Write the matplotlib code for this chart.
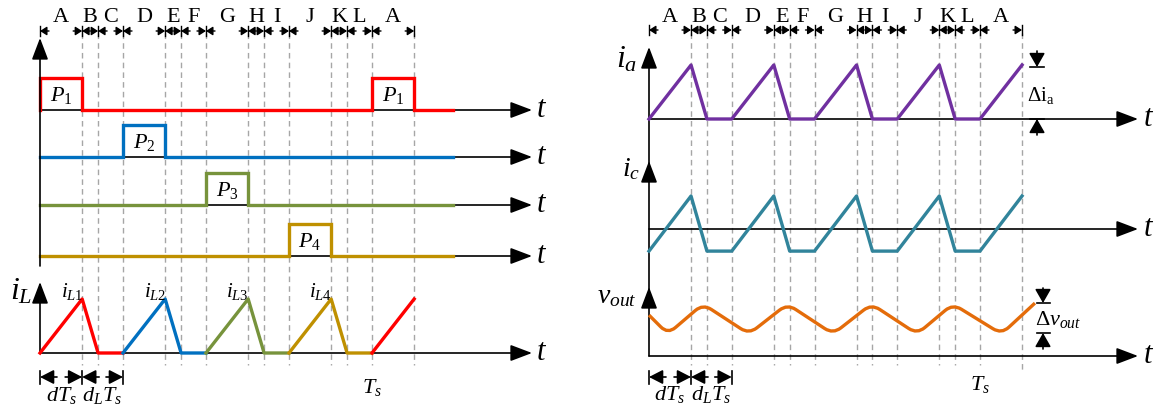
#### timing diagram: 4-phase interleaved converter waveforms

import numpy as np
import matplotlib.pyplot as plt
from matplotlib.path import Path
from matplotlib.patches import PathPatch

plt.rcParams['font.family'] = ['Liberation Serif', 'DejaVu Serif']
plt.rcParams['mathtext.fontset'] = 'custom'
plt.rcParams['mathtext.rm'] = 'Liberation Serif'
plt.rcParams['mathtext.it'] = 'Liberation Serif:italic'
plt.rcParams['mathtext.bf'] = 'Liberation Serif:bold'

#### data (time in units of Ts) ####

bounds = [0, 0.127, 0.175, 0.25, 0.377, 0.425, 0.5, 0.627, 0.675, 0.75, 0.877, 0.925, 1.0, 1.127]
letters = ['A', 'B', 'C', 'D', 'E', 'F', 'G', 'H', 'I', 'J', 'K', 'L', 'A']

# gate pulses P1..P4
p_t = [[0, 0, 0.127, 0.127, 1.0, 1.0, 1.127, 1.127, 1.245],
       [0, 0.25, 0.25, 0.377, 0.377, 1.245],
       [0, 0.5, 0.5, 0.627, 0.627, 1.245],
       [0, 0.75, 0.75, 0.877, 0.877, 1.245]]
p_v = [[0, 1, 1, 0, 0, 1, 1, 0, 0],
       [0, 0, 1, 1, 0, 0],
       [0, 0, 1, 1, 0, 0],
       [0, 0, 1, 1, 0, 0]]
p_names = ['$P_{\\mathit{1}}$', '$P_{\\mathit{2}}$', '$P_{\\mathit{3}}$', '$P_{\\mathit{4}}$']
p_label_t = [[0.0635, 1.0635], [0.3135], [0.5635], [0.8135]]

# inductor currents iL1..iL4 (red again at the next period)
il_t = [[0, 0.127, 0.175, 0.25], [0.25, 0.377, 0.425, 0.5], [0.5, 0.627, 0.675, 0.75],
        [0.75, 0.877, 0.925, 1.0], [1.0, 1.127]]
il_v = [[0, 1, 0, 0], [0, 1, 0, 0], [0, 1, 0, 0], [0, 1, 0, 0], [0, 1]]
il_names = ['$i_{L1}$', '$i_{L2}$', '$i_{L3}$', '$i_{L4}$']

# right panel
ia_t = bounds
ia_v = [0, 1, 0, 0, 1, 0, 0, 1, 0, 0, 1, 0, 0, 1]
ic_v = [-0.67, 1, -0.67, -0.67, 1, -0.67, -0.67, 1, -0.67, -0.67, 1, -0.67, -0.67, 1]
vout_t = [0, 0.057, 0.163, 0.302, 0.418, 0.556, 0.672, 0.81, 0.918, 1.065, 1.166]
vout_v = [0.63, 0, 1, 0, 1, 0, 1, 0, 1, 0, 1.03]

c_phase = ['#ff0000', '#0070c0', '#77933c', '#bf9000', '#ff0000']
c_ia = '#7030a0'
c_ic = '#31849b'
c_vout = '#e46c0a'

#### layout in pixels ####

L0, LS = 40, 332     # left panel origin / px per Ts
R0, RS = 649, 331    # right panel
p_base = [111, 158, 206, 257]
p_h = 32
il_base, il_amp = 354, 54
ia_base, ia_amp = 120, 54
ic_base, ic_amp = 230, 33
vo_base, vo_amp = 335, 30
vo_axis = 357

def xl(t):
    return L0 + np.asarray(t, dtype=float) * LS

def xr(t):
    return R0 + np.asarray(t, dtype=float) * RS

fig = plt.figure(figsize=(11.55, 4.14), dpi=100)
ax = fig.add_axes([0, 0, 1, 1])
ax.set_xlim(0, 1155)
ax.set_ylim(414, 0)
ax.axis('off')

def arrow(x0, y0, x1, y1, hl=0.95, hw=0.36, ms=14, lw=1.2):
    ax.annotate('', xy=(x1, y1), xytext=(x0, y0),
                arrowprops=dict(arrowstyle='-|>,head_length=%g,head_width=%g' % (hl, hw),
                                mutation_scale=ms, lw=lw, color='k',
                                shrinkA=0, shrinkB=0))

dash = dict(color='#a6a6a6', lw=1.0, ls=(0, (4, 3)), zorder=0)

#### dashed interval lines ####
for b in bounds[1:]:
    ax.plot([xl(b), xl(b)], [34, 366], **dash)
    ax.plot([xr(b), xr(b)], [34, 366 if b < 1.1 else 374], **dash)

#### top interval markers ####
def interval_marks(xf, y):
    xs = [float(xf(b)) for b in bounds]
    for x in xs:
        ax.plot([x, x], [y - 5, y + 5], color='k', lw=1)
    for a, b, name in zip(xs[:-1], xs[1:], letters):
        s = min(9, (b - a) / 2 - 0.5)
        arrow(a + s, y, a, y, hl=0.5, hw=0.32, ms=8, lw=1)
        arrow(b - s, y, b, y, hl=0.5, hw=0.32, ms=8, lw=1)
        ax.text((a + b) / 2, 17, name, fontsize=16, ha='center', va='center')

interval_marks(xl, 32)
interval_marks(xr, 31)

#### left panel ####
tip_l = 532
for i, base in enumerate(p_base):
    arrow(L0, base, tip_l, base)
    ax.text(tip_l + 5, base - 1, 't', fontsize=22, style='italic', ha='left', va='center')
    ax.plot(xl(p_t[i]), base - np.array(p_v[i]) * p_h, color=c_phase[i], lw=2.4,
            solid_joinstyle='miter', zorder=3)
    for tl in p_label_t[i]:
        ax.text(xl(tl), base - p_h / 2 + 1, p_names[i], fontsize=16, ha='center', va='center')

arrow(L0, 267, L0, 39)   # main vertical axis

# inductor currents
arrow(L0, il_base, tip_l, il_base)
arrow(L0, il_base, L0, 283)
ax.text(tip_l + 5, il_base - 1, 't', fontsize=22, style='italic', ha='left', va='center')
ax.text(21, 292, '$i_L$', fontsize=23, ha='center', va='center')
for i in range(len(il_t)):
    ax.plot(xl(il_t[i]), il_base - np.array(il_v[i]) * il_amp, color=c_phase[i], lw=2.4,
            zorder=3)
for i, name in enumerate(il_names):
    ax.text(xl(il_t[i][1]) + 1, 292, name, fontsize=15, ha='right', va='center')

# bottom dimensions
def bottom_dims(xf, y, lab_y):
    xs = [float(xf(0)), float(xf(bounds[1])), float(xf(bounds[3]))]
    for x in xs:
        ax.plot([x, x], [y - 6, y + 7], color='k', lw=1.2)
    for a, b in zip(xs[:-1], xs[1:]):
        arrow(a + 17, y, a, y, hl=0.7, hw=0.36, ms=12, lw=1.2)
        arrow(b - 17, y, b, y, hl=0.7, hw=0.36, ms=12, lw=1.2)
    ax.text((xs[0] + xs[1]) / 2, lab_y, '$dT_s$', fontsize=16, ha='center', va='center')
    ax.text((xs[1] + xs[2]) / 2, lab_y, '$d_LT_s$', fontsize=16, ha='center', va='center')

bottom_dims(xl, 378, 396)
ax.text(xl(1.0), 388, '$T_s$', fontsize=16, ha='center', va='center')

#### right panel ####
tip_r = 1138
for base in [ia_base, ic_base, vo_axis]:
    arrow(R0, base, tip_r, base)
    ax.text(tip_r + 6, base - 1, 't', fontsize=22, style='italic', ha='left', va='center')
arrow(R0, vo_axis, R0, 48)
arrow(R0, 180, R0, 162)
arrow(R0, 306, R0, 288)

ax.text(627, 60, '$i_a$', fontsize=23, ha='center', va='center')
ax.text(631, 169, '$i_c$', fontsize=20, ha='center', va='center')
ax.text(617, 297, '$v_{out}$', fontsize=20, ha='center', va='center')

ax.plot(xr(ia_t), ia_base - np.array(ia_v) * ia_amp, color=c_ia, lw=2.4, zorder=3)
ax.plot(xr(ia_t), ic_base - np.array(ic_v) * ic_amp, color=c_ic, lw=2.4, zorder=3)

# output voltage with rounded peaks
def rounded_path(xs, ys, r):
    verts = [(xs[0], ys[0])]
    codes = [Path.MOVETO]
    for i in range(1, len(xs) - 1):
        p0 = np.array([xs[i - 1], ys[i - 1]])
        p1 = np.array([xs[i], ys[i]])
        p2 = np.array([xs[i + 1], ys[i + 1]])
        d1 = (p0 - p1) / np.hypot(*(p0 - p1))
        d2 = (p2 - p1) / np.hypot(*(p2 - p1))
        verts += [tuple(p1 + d1 * r), tuple(p1), tuple(p1 + d2 * r)]
        codes += [Path.LINETO, Path.CURVE3, Path.CURVE3]
    verts.append((xs[-1], ys[-1]))
    codes.append(Path.LINETO)
    return Path(verts, codes)

vx = xr(vout_t)
vy = vo_base - np.array(vout_v) * vo_amp
ax.add_patch(PathPatch(rounded_path(vx, vy, 10), fill=False, edgecolor=c_vout, lw=2.4, zorder=3))

# ripple markers
ax.plot([1030, 1044], [68, 68], color='k', lw=1.2)
ax.plot([1030, 1044], [ia_base, ia_base], color='k', lw=1.2)
arrow(1037, 52, 1037, 68, hl=0.7, hw=0.4, ms=12)
arrow(1037, 136, 1037, ia_base, hl=0.7, hw=0.4, ms=12)
ax.text(1041, 96, '$\\mathrm{\\Delta i_a}$', fontsize=15, ha='center', va='center')

ax.plot([1037, 1050], [304, 304], color='k', lw=1.2)
ax.plot([1037, 1050], [334, 334], color='k', lw=1.2)
arrow(1043, 289, 1043, 304, hl=0.7, hw=0.4, ms=12)
arrow(1043, 350, 1043, 334, hl=0.7, hw=0.4, ms=12)
ax.text(1058, 320, '$\\mathrm{\\Delta}v_{out}$', fontsize=16, ha='center', va='center')

bottom_dims(xr, 378, 395)
ax.text(xr(1.0), 385, '$T_s$', fontsize=16, ha='center', va='center')

fig.savefig('out.png', dpi=100)
